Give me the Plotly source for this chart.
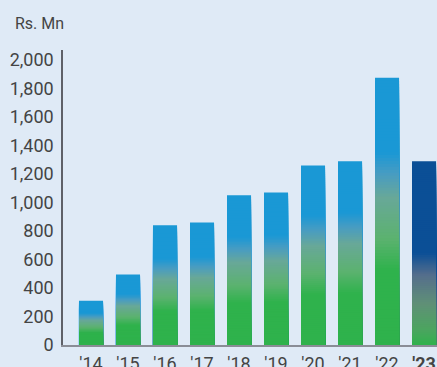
import plotly.graph_objects as go

# Yearly figures, Rs. Mn
years = ["′14", "′15", "′16", "′17", "′18", "′19", "′20", "′21", "′22", "′23"]
values = [310, 495, 840, 860, 1050, 1070, 1260, 1290, 1875, 1290]
tick_labels = years[:-1] + ["<b>" + years[-1] + "</b>"]
y_ticks = list(range(0, 2001, 200))

# Vertical colour ramps (fraction of bar height -> RGB)
GREEN_BLUE = [
    (0.00, (47, 178, 76)),
    (0.28, (47, 178, 76)),
    (0.40, (92, 178, 112)),
    (0.55, (104, 168, 152)),
    (0.64, (72, 156, 194)),
    (0.72, (26, 152, 213)),
    (1.00, (26, 152, 213)),
]
GREEN_NAVY = [
    (0.00, (47, 178, 76)),
    (0.08, (75, 165, 95)),
    (0.22, (95, 145, 118)),
    (0.38, (85, 110, 140)),
    (0.50, (11, 79, 150)),
    (1.00, (11, 79, 150)),
]


def ramp(stops, f):
    for (f0, c0), (f1, c1) in zip(stops, stops[1:]):
        if f <= f1:
            t = 0 if f1 == f0 else (f - f0) / (f1 - f0)
            return "rgb(%d,%d,%d)" % tuple(round(a + (b - a) * t) for a, b in zip(c0, c1))
    return "rgb(%d,%d,%d)" % stops[-1][1]


N = 90
fig = go.Figure()
# Overlaid bars, tallest first: each layer is a shorter copy in the next colour step
for k in range(N):
    frac = 1 - k / N
    mid = 1 - (k + 0.5) / N
    colors = [ramp(GREEN_NAVY if i == len(values) - 1 else GREEN_BLUE, mid)
              for i in range(len(values))]
    fig.add_trace(go.Bar(
        x=years, y=[v * frac for v in values],
        marker=dict(color=colors, line=dict(width=0)),
        width=0.65, hoverinfo="skip", showlegend=False,
    ))

bg = "#dfeaf6"
fig.update_layout(
    barmode="overlay",
    width=437, height=367,
    margin=dict(l=63, r=0, t=50, b=22),
    paper_bgcolor=bg, plot_bgcolor=bg,
    font=dict(family="Roboto", size=18, color="#444444"),
    xaxis=dict(
        range=[-0.757, 9.35], tickvals=years, ticktext=tick_labels,
        showline=True, linecolor="#8a8d96", linewidth=2,
        showgrid=False, zeroline=False, ticks="", ticklabelstandoff=1,
        automargin=False,
    ),
    yaxis=dict(
        range=[0, 2070], tickvals=y_ticks,
        ticktext=[f"{v:,}" for v in y_ticks],
        showline=True, linecolor="#5f6168", linewidth=1.5,
        showgrid=False, zeroline=False, ticks="", ticklabelstandoff=4,
        automargin=False,
    ),
    annotations=[dict(
        text="Rs. Mn", xref="paper", yref="paper",
        x=-0.134, y=1.09, xanchor="left", yanchor="middle",
        showarrow=False,
        font=dict(family="Roboto", size=16, color="#444444"),
    )],
)

fig.write_html("out.html")
